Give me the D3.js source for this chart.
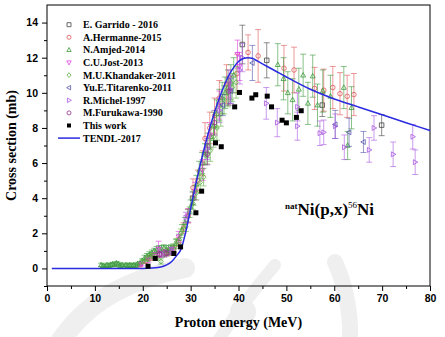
<!DOCTYPE html>
<html>
<head>
<meta charset="utf-8">
<script src="https://cdn.jsdelivr.net/npm/d3@7"></script>
<style>
  body { margin: 0; background: #fff; }
  svg { display: block; }
  .tick text { font-family: "Liberation Sans", Arial, sans-serif; font-weight: bold; font-size: 10.5px; }
  .title { font-family: "Liberation Serif", "Times New Roman", serif; font-weight: bold; font-size: 14px; }
  .legend text { font-family: "Liberation Serif", "Times New Roman", serif; font-weight: bold; font-size: 10px; }
</style>
</head>
<body>
<svg width="445" height="337"></svg>
<script>
// each entry: [energy MeV, cross section mb, error mb]
const garrido = [[25.5,0.95,0.15],[30.4,4.0,0.35],[40.8,12.75,1.1],[45.9,11.85,1.0],[57.5,9.3,0.65],[69.9,8.16,0.6]];
const hermanne = [[19.5,0.2,0.1],[20.5,0.4,0.1],[21.5,0.6,0.15],[22.5,0.75,0.15],[23.5,0.8,0.15],[24.5,0.9,0.15],
  [25.5,0.95,0.2],[26.5,1.1,0.2],[27.5,1.5,0.25],[28.5,2.3,0.3],[29.5,3.0,0.4],[30.5,4.6,0.5],[31.5,5.0,0.6],
  [32.5,6.0,0.7],[33.0,7.4,0.9],[34.0,8.0,0.9],[35.0,8.7,1.0],[36.0,9.7,1.0],[37.5,10.5,1.1],[39.7,11.1,1.1],
  [42.0,12.3,1.0],[44.1,12.1,1.5],[49.5,11.4,1.3],[51.6,11.3,1.3],[55.9,10.25,1.2],[57.8,10.15,1.2],
  [59.7,10.3,1.2],[61.2,9.95,1.2],[62.7,9.8,1.2],[64.1,9.9,1.2]];
const amjed = [[11.3,0.2,0.1],[11.7,0.15,0.1],[12.1,0.1,0.1],[12.5,0.2,0.1],[12.9,0.15,0.1],[13.3,0.2,0.1],
  [13.7,0.25,0.1],[14.1,0.2,0.1],[14.5,0.3,0.1],[14.9,0.25,0.1],[15.3,0.15,0.1],[15.7,0.2,0.1],[16.1,0.1,0.1],
  [16.5,0.2,0.1],[16.9,0.15,0.1],[17.3,0.2,0.1],[17.7,0.15,0.1],[18.1,0.2,0.1],[18.5,0.15,0.1],[18.9,0.25,0.1],
  [19.4,0.3,0.1],[19.9,0.45,0.1],[20.4,0.6,0.15],[20.9,0.7,0.15],[21.4,0.8,0.15],[21.9,0.9,0.15],[22.4,1.0,0.15],
  [22.9,1.05,0.2],[23.4,1.1,0.2],[23.9,1.1,0.2],[24.4,1.15,0.2],[24.9,1.1,0.2],[25.4,1.1,0.2],[25.9,1.15,0.2],
  [26.4,1.2,0.2],[27.0,1.4,0.25],[27.6,1.7,0.25],[28.2,2.2,0.3],[28.8,2.6,0.3],[29.4,3.0,0.35],[30.0,3.5,0.4],
  [30.6,4.0,0.4],[31.2,4.8,0.5],[31.8,5.6,0.5],[32.4,6.0,0.6],[33.0,6.5,0.6],[33.6,7.0,0.7],[34.2,7.5,0.7],
  [34.8,8.1,0.8],[35.4,8.8,0.8],[36.0,9.3,0.9],[36.6,9.7,0.9],[37.2,10.0,0.9],[37.8,10.3,1.0],[38.4,10.6,1.0],
  [39.0,11.0,1.0],[48.2,11.6,1.2],[49.4,10.8,1.2],[50.3,10.0,1.2],[51.3,9.6,1.2],[52.6,10.2,1.2],[53.5,11.0,1.2],
  [54.5,9.4,1.2],[55.5,10.95,1.2],[56.5,9.3,1.2],[57.6,10.1,1.2],[59.2,9.8,1.2],[62.0,10.3,1.2],[62.8,7.0,0.8],
  [63.6,9.15,1.2]];
const jost = [[19.8,0.25,0.1],[21.2,0.5,0.15],[22.5,0.7,0.2],[23.3,1.1,0.45],[24.5,0.85,0.2],[26.0,1.0,0.2],
  [27.5,1.8,0.3],[29.5,3.0,0.4],[31.0,4.4,0.5],[32.5,5.6,0.6],[34.0,7.6,0.7],[36.0,9.3,0.8],[38.0,10.5,0.8],
  [39.8,12.2,0.8],[40.2,11.5,0.8]];
const khandaker = [[20.0,0.4,0.1],[21.0,0.55,0.15],[22.0,0.7,0.15],[23.0,0.6,0.15],[23.8,0.4,0.15],[24.5,0.8,0.15],
  [25.5,0.95,0.2],[27.0,1.5,0.2],[28.0,2.0,0.25],[29.0,2.4,0.3],[29.8,3.2,0.3],[30.5,3.7,0.35],[31.2,4.3,0.4],
  [32.0,4.9,0.45],[32.7,5.2,0.5],[33.4,6.5,0.55],[34.1,6.7,0.6],[34.8,7.5,0.6],[35.5,8.0,0.7],[36.3,8.8,0.7],
  [37.0,9.6,0.8],[37.8,10.0,0.8],[38.7,10.3,0.8],[39.5,10.6,0.9]];
const titarenko = [[36.7,9.3,0.6],[38.4,10.1,0.7],[42.9,11.7,1.0],[60.2,8.2,0.8],[63.1,7.75,0.8],[66.1,7.2,0.6]];
const michel = [[24.0,0.8,0.15],[26.0,1.0,0.2],[29.0,2.9,0.3],[33.5,6.8,0.6],[36.0,9.0,0.7],[38.3,10.2,0.8],
  [40.3,11.3,0.8],[40.8,12.0,0.8],[45.8,9.4,0.9],[48.1,8.3,0.8],[52.3,9.2,0.8],[52.3,8.1,0.8],[57.0,7.7,0.7],
  [57.8,7.75,0.7],[60.2,8.1,0.7],[62.1,6.9,0.7],[67.3,6.75,0.7],[68.3,8.0,0.7],[72.3,6.5,0.7],[76.4,7.5,0.7],
  [76.9,6.05,0.7]];
const furukawa = [[23.5,0.8,0.15],[25.0,0.85,0.15],[33.5,6.5,0.6],[35.0,8.3,0.7],[38.0,10.1,0.8]];
const thisWork = [[21.1,0.13],[22.6,0.57],[26.5,0.85],[27.9,1.23],[31.1,3.17],[32.3,4.4],[35.2,7.15],[36.4,6.93],
  [39.2,9.2],[40.2,10.02],[42.8,9.7],[43.6,9.89],[46.0,9.81],[46.9,9.2],[49.1,8.44],[50.0,8.29],[52.1,8.6],[53.1,8.98]];
const tendl = [[1,0],[20,0],[22,0.02],[24,0.1],[25,0.2],[26,0.38],[27,0.7],[28,1.1],[29,2.1],[30,3.4],[31,4.7],
  [32,5.9],[33,7.0],[34,8.0],[35,8.9],[36,9.7],[37,10.4],[38,11.0],[39,11.45],[40,11.78],[41,11.95],[42,12.0],
  [43,11.95],[44,11.8],[46,11.5],[48,11.2],[50,10.9],[55,10.2],[60,9.65],[65,9.2],[70,8.75],[75,8.3],[80,7.85]];

const xTicks = [0, 10, 20, 30, 40, 50, 60, 70, 80];
const yTicks = [0, 2, 4, 6, 8, 10, 12, 14];

const svg = d3.select('svg');
const width = +svg.attr('width');
const height = +svg.attr('height');
const margin = { top: 5, right: 15, bottom: 51, left: 47 };

const x = d3.scaleLinear().domain([0, 80]).range([margin.left, width - margin.right]);
const y = d3.scaleLinear().domain([-1, 15]).range([height - margin.bottom, margin.top]);

// faint logo watermark behind everything
const wm = svg.append('g').attr('fill', 'none').attr('stroke', '#efefef').attr('stroke-linecap', 'round');
wm.append('path').attr('d', 'M58,345 Q95,285 185,268').attr('stroke-width', 20);
wm.append('path').attr('d', 'M215,345 Q245,300 275,265').attr('stroke-width', 12);
wm.append('path').attr('d', 'M335,262 Q352,300 350,345').attr('stroke-width', 16);
svg.append('circle').attr('cx', 243).attr('cy', 312).attr('r', 13).attr('fill', '#eeeeee');

// axes
svg.append('g').attr('transform', `translate(0,${y(-1)})`)
  .call(d3.axisBottom(x).tickValues(xTicks).tickSize(5).tickPadding(4));
svg.append('g').attr('transform', `translate(0,${y(-1)})`)
  .call(d3.axisBottom(x).tickValues(d3.range(5, 80, 10)).tickSize(3).tickFormat(''));
svg.append('g').attr('transform', `translate(${x(0)},0)`)
  .call(d3.axisLeft(y).tickValues(yTicks).tickSize(5).tickPadding(4));
svg.append('g').attr('transform', `translate(${x(0)},0)`)
  .call(d3.axisLeft(y).tickValues(d3.range(-1, 15, 2)).tickSize(3).tickFormat(''));
svg.selectAll('.domain').remove();
svg.selectAll('.tick line').attr('stroke', '#000');

svg.append('rect')
  .attr('x', x(0)).attr('y', y(15))
  .attr('width', x(80) - x(0)).attr('height', y(-1) - y(15))
  .attr('fill', 'none').attr('stroke', '#000').attr('stroke-width', 1);

svg.append('text').attr('class', 'title')
  .attr('x', (x(0) + x(80)) / 2).attr('y', 327).attr('text-anchor', 'middle')
  .text('Proton energy (MeV)');
svg.append('text').attr('class', 'title')
  .attr('transform', `translate(16,${y(7)}) rotate(-90)`).attr('text-anchor', 'middle')
  .text('Cross section (mb)');

// marker shapes
const sym = {
  square: s => `M${-s/2},${-s/2}h${s}v${s}h${-s}Z`,
  circle: s => d3.symbol(d3.symbolCircle, s * s * 0.8)(),
  up: s => `M0,${-s*0.6}L${s*0.55},${s*0.4}L${-s*0.55},${s*0.4}Z`,
  down: s => `M0,${s*0.6}L${s*0.55},${-s*0.4}L${-s*0.55},${-s*0.4}Z`,
  diamond: s => `M0,${-s*0.6}L${s*0.5},0L0,${s*0.6}L${-s*0.5},0Z`,
  left: s => `M${-s*0.6},0L${s*0.4},${-s*0.55}L${s*0.4},${s*0.55}Z`,
  right: s => `M${s*0.6},0L${-s*0.4},${-s*0.55}L${-s*0.4},${s*0.55}Z`
};

const series = [
  { name: 'E. Garrido - 2016', data: garrido, color: '#444444', shape: 'square' },
  { name: 'A.Hermanne-2015', data: hermanne, color: '#e05555', shape: 'circle' },
  { name: 'N.Amjed-2014', data: amjed, color: '#3c9a3c', shape: 'up' },
  { name: 'C.U.Jost-2013', data: jost, color: '#e040e0', shape: 'down' },
  { name: 'M.U.Khandaker-2011', data: khandaker, color: '#5cb040', shape: 'diamond' },
  { name: 'Yu.E.Titarenko-2011', data: titarenko, color: '#5555aa', shape: 'left' },
  { name: 'R.Michel-1997', data: michel, color: '#a858e0', shape: 'right' },
  { name: 'M.Furukawa-1990', data: furukawa, color: '#903090', shape: 'circle' }
];

const plot = svg.append('g');
series.forEach(s => {
  const g = plot.append('g');
  const eb = g.selectAll('.eb').data(s.data).enter().append('g')
    .attr('stroke', s.color).attr('stroke-opacity', 0.6).attr('stroke-width', 1);
  eb.append('line')
    .attr('x1', d => x(d[0])).attr('x2', d => x(d[0]))
    .attr('y1', d => y(d[1] - d[2])).attr('y2', d => y(d[1] + d[2]));
  eb.append('line')
    .attr('x1', d => x(d[0]) - 3).attr('x2', d => x(d[0]) + 3)
    .attr('y1', d => y(d[1] + d[2])).attr('y2', d => y(d[1] + d[2]));
  eb.append('line')
    .attr('x1', d => x(d[0]) - 3).attr('x2', d => x(d[0]) + 3)
    .attr('y1', d => y(d[1] - d[2])).attr('y2', d => y(d[1] - d[2]));
  g.selectAll('.m').data(s.data).enter().append('path')
    .attr('transform', d => `translate(${x(d[0])},${y(d[1])})`)
    .attr('d', sym[s.shape](4.5))
    .attr('fill', 'none').attr('stroke', s.color).attr('stroke-width', 0.8);
});

const line = d3.line().x(d => x(d[0])).y(d => y(d[1])).curve(d3.curveMonotoneX);
plot.append('path').datum(tendl)
  .attr('d', line).attr('fill', 'none').attr('stroke', '#2a2ae0').attr('stroke-width', 1.5);

plot.selectAll('.tw').data(thisWork).enter().append('rect')
  .attr('x', d => x(d[0]) - 2.5).attr('y', d => y(d[1]) - 2.5)
  .attr('width', 5).attr('height', 5).attr('fill', '#000');

// legend
const legend = svg.append('g').attr('class', 'legend');
const rowY = i => 27.7 + i * 12.6;
series.forEach((s, i) => {
  legend.append('path')
    .attr('transform', `translate(69,${rowY(i) - 3})`)
    .attr('d', sym[s.shape](4))
    .attr('fill', 'none').attr('stroke', s.color).attr('stroke-width', 0.8);
  legend.append('text').attr('x', 83).attr('y', rowY(i) + 0.5).text(s.name);
});
legend.append('rect').attr('x', 67).attr('y', rowY(8) - 5).attr('width', 4).attr('height', 4).attr('fill', '#000');
legend.append('text').attr('x', 83).attr('y', rowY(8) + 0.5).text('This work');
legend.append('line').attr('x1', 58).attr('x2', 80).attr('y1', rowY(9) - 3).attr('y2', rowY(9) - 3)
  .attr('stroke', '#2a2ae0').attr('stroke-width', 1.5);
legend.append('text').attr('x', 83).attr('y', rowY(9) + 0.5).text('TENDL-2017');

// reaction label
const lab = svg.append('text').attr('x', 285).attr('y', 215)
  .attr('font-family', '"Liberation Serif", "Times New Roman", serif').attr('font-weight', 'bold');
lab.append('tspan').attr('font-size', 9).attr('dy', -6).text('nat');
lab.append('tspan').attr('font-size', 17).attr('dy', 6).text('Ni(p,x)');
lab.append('tspan').attr('font-size', 9).attr('font-weight', 'normal').attr('dy', -7).text('56');
lab.append('tspan').attr('font-size', 17).attr('dy', 7).text('Ni');
</script>
</body>
</html>
